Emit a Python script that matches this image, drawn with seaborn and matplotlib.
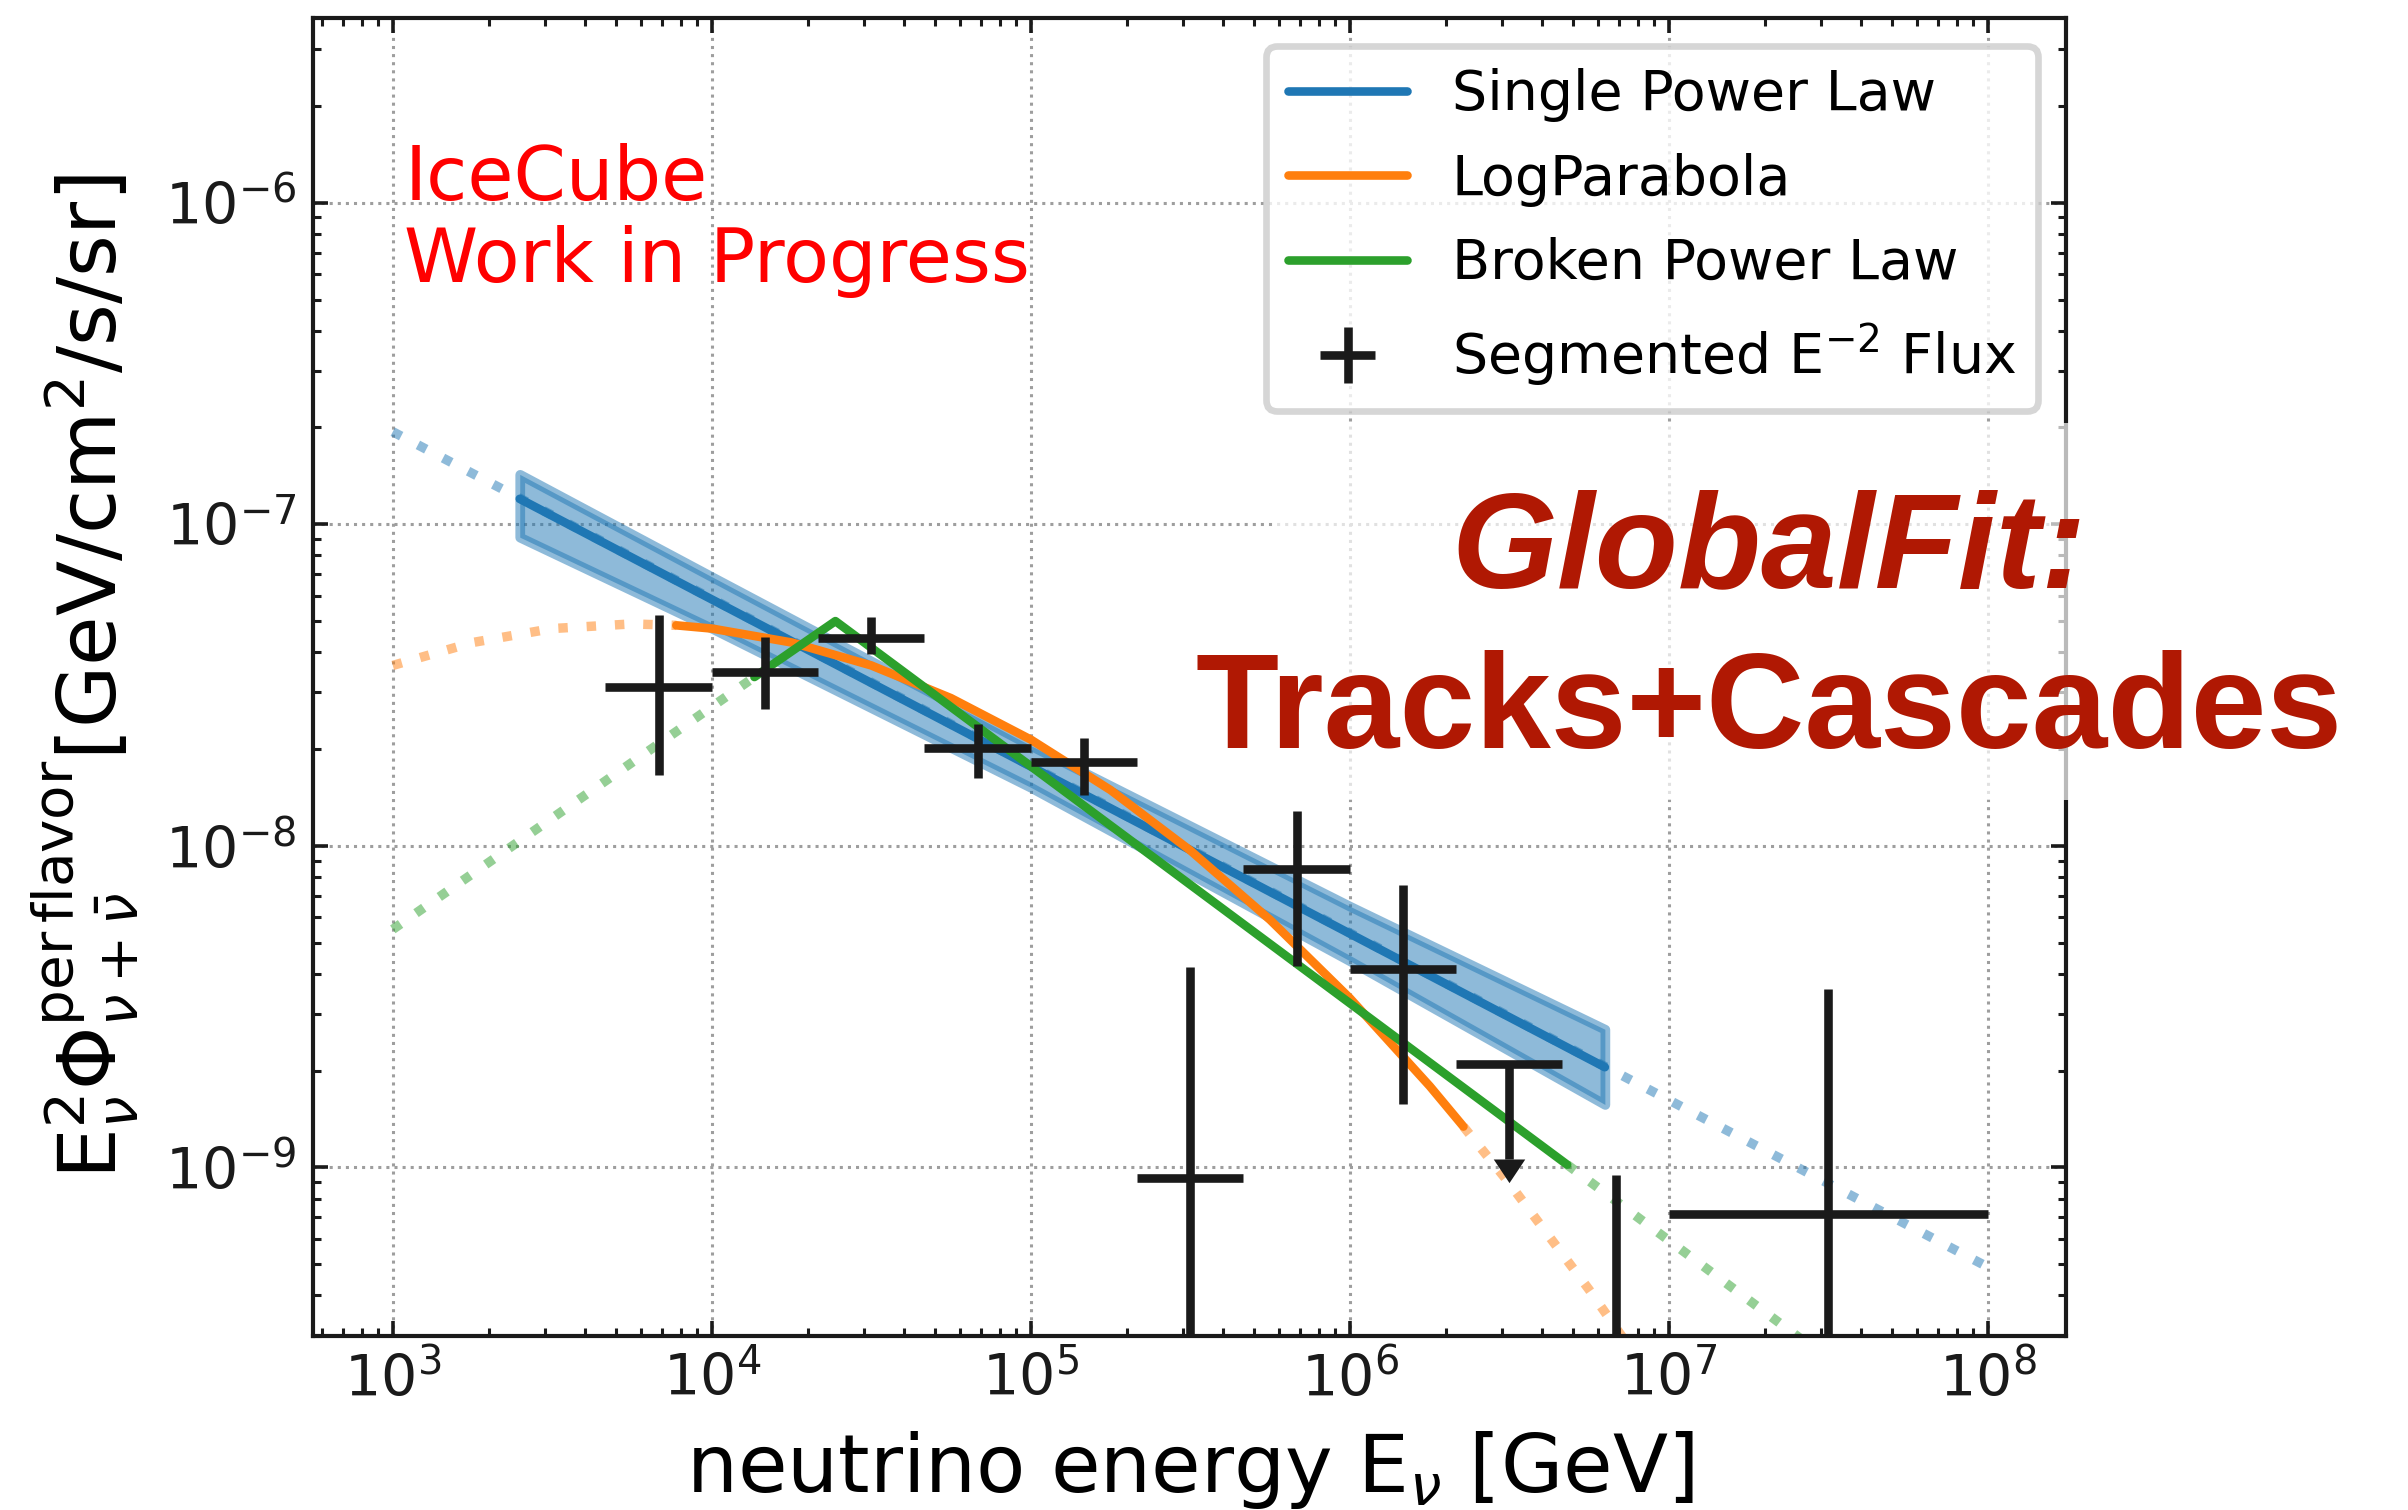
import numpy as np
import pandas as pd
import matplotlib
matplotlib.use("Agg")
import matplotlib.pyplot as plt
from matplotlib.lines import Line2D
from matplotlib.patches import Rectangle
import seaborn as sns

# ---------------- data ----------------
# Single power law: full model range (dotted) and fitted range (solid)
spl_E_full = [1.0e3, 1.0e8]
spl_F_full = [1.94e-7, 4.9e-10]
spl_E = [2.5e3, 6.3e6]
spl_F = [1.20e-7, 2.05e-9]

# 1-sigma band of the single power law
band_E = [2.5e3, 1.0e4, 1.0e5, 1.0e6, 6.3e6]
band_hi = [1.43e-7, 6.87e-8, 2.05e-8, 6.49e-9, 2.69e-9]
band_lo = [9.12e-8, 4.75e-8, 1.52e-8, 4.39e-9, 1.57e-9]

# Log-parabola
lp_E = [1.0e3, 1.78e3, 3.16e3, 5.62e3, 7.74e3, 1.0e4, 1.78e4, 3.16e4, 5.62e4,
        1.0e5, 1.78e5, 3.16e5, 5.62e5, 1.0e6, 1.78e6, 2.27e6, 3.16e6, 5.62e6, 7.94e6]
lp_F = [3.64e-8, 4.29e-8, 4.74e-8, 4.90e-8, 4.85e-8, 4.74e-8, 4.29e-8, 3.64e-8, 2.88e-8,
        2.14e-8, 1.49e-8, 9.68e-9, 5.89e-9, 3.36e-9, 1.79e-9, 1.34e-9, 8.93e-10, 4.17e-10, 2.56e-10]
lp_solid_range = (7.74e3, 2.27e6)

# Broken power law
bpl_E = [1.0e3, 1.36e4, 2.44e4, 4.8e6, 1.0e8]
bpl_F = [5.5e-9, 3.35e-8, 5.0e-8, 1.02e-9, 1.08e-10]
bpl_solid_range = (1.36e4, 4.8e6)

# Segmented E^-2 flux (bin edges, central value, error bounds)
seg_E = [6.81e3, 1.47e4, 3.16e4, 6.81e4, 1.47e5, 3.16e5, 6.81e5, 1.47e6, 6.81e6, 3.16e7]
seg_Elo = [4.64e3, 1.0e4, 2.15e4, 4.64e4, 1.0e5, 2.15e5, 4.64e5, 1.0e6, 4.64e6, 1.0e7]
seg_Ehi = [1.0e4, 2.15e4, 4.64e4, 1.0e5, 2.15e5, 4.64e5, 1.0e6, 2.15e6, 1.0e7, 1.0e8]
seg_F = [3.12e-8, 3.47e-8, 4.43e-8, 2.02e-8, 1.82e-8, 9.3e-10, 8.5e-9, 4.13e-9, 1.0e-10, 7.18e-10]
seg_Fup = [5.21e-8, 4.47e-8, 5.15e-8, 2.40e-8, 2.16e-8, 4.2e-9, 1.28e-8, 7.55e-9, 9.5e-10, 3.6e-9]
seg_Flow = [1.66e-8, 2.67e-8, 3.94e-8, 1.63e-8, 1.44e-8, 1.0e-11, 4.22e-9, 1.58e-9, 1.0e-11, 1.0e-11]

# Upper limit bin
ul_E = [3.16e6]
ul_Elo = [2.15e6]
ul_Ehi = [4.64e6]
ul_F = [2.10e-9]
ul_end = [1.06e-9]

C_SPL, C_LP, C_BPL = "#1f77b4", "#ff7f0e", "#2ca02c"

# ---------------- style ----------------
sns.set_theme(style="ticks")
plt.rcParams["font.family"] = ["DejaVu Sans"]
plt.rcParams["mathtext.fontset"] = "dejavusans"
for key in ["text.color", "axes.labelcolor", "xtick.color", "ytick.color",
            "axes.edgecolor"]:
    plt.rcParams[key] = "black"

fig, ax = plt.subplots(figsize=(12.04, 7.55), dpi=200)
fig.subplots_adjust(left=0.130, right=0.858, top=0.988, bottom=0.1155)
ax.set_xscale("log")
ax.set_yscale("log")

DOT = (0, (1, 2))
LW = 3.1
DLW = 3.4
ELW = 3.1


def seg(E, F, lo, hi, inside=True):
    E = np.asarray(E)
    F = np.asarray(F)
    m = (E >= lo) & (E <= hi)
    if inside:
        return E[m], F[m]
    return (E[E <= lo], F[E <= lo]), (E[E >= hi], F[E >= hi])


# single power law
sns.lineplot(x=spl_E_full, y=spl_F_full, ax=ax, color=C_SPL, linewidth=DLW, alpha=0.5,
             linestyle=DOT, estimator=None, sort=False, zorder=2)
ax.fill_between(band_E, band_lo, band_hi, color=C_SPL, alpha=0.5, linewidth=3.5, zorder=2.2)
sns.lineplot(x=spl_E, y=spl_F, ax=ax, color=C_SPL, linewidth=LW, estimator=None,
             sort=False, zorder=3)

# log-parabola
(lE, lF), (rE, rF) = seg(lp_E, lp_F, *lp_solid_range, inside=False)
for xe, yf in [(lE, lF), (rE, rF)]:
    sns.lineplot(x=xe, y=yf, ax=ax, color=C_LP, linewidth=DLW, alpha=0.5, linestyle=DOT,
                 estimator=None, sort=False, zorder=2)
sE, sF = seg(lp_E, lp_F, *lp_solid_range)
sns.lineplot(x=sE, y=sF, ax=ax, color=C_LP, linewidth=LW, estimator=None, sort=False,
             zorder=3.1)

# broken power law
(lE, lF), (rE, rF) = seg(bpl_E, bpl_F, *bpl_solid_range, inside=False)
for xe, yf in [(lE, lF), (rE, rF)]:
    sns.lineplot(x=xe, y=yf, ax=ax, color=C_BPL, linewidth=DLW, alpha=0.5, linestyle=DOT,
                 estimator=None, sort=False, zorder=2)
sE, sF = seg(bpl_E, bpl_F, *bpl_solid_range)
sns.lineplot(x=sE, y=sF, ax=ax, color=C_BPL, linewidth=LW, estimator=None, sort=False,
             zorder=3.2)

# segmented flux
sE = np.array(seg_E)
sF = np.array(seg_F)
xerr = [sE - np.array(seg_Elo), np.array(seg_Ehi) - sE]
yerr = [sF - np.array(seg_Flow), np.array(seg_Fup) - sF]
eb = ax.errorbar(sE, sF, xerr=xerr, yerr=yerr, fmt="none", ecolor="k",
                 elinewidth=ELW, capsize=0, zorder=5)

# upper limit
uE = np.array(ul_E)
uF = np.array(ul_F)
ax.errorbar(uE, uF, xerr=[uE - np.array(ul_Elo), np.array(ul_Ehi) - uE],
            yerr=[uF - np.array(ul_end), np.zeros_like(uF)], fmt="none",
            ecolor="k", elinewidth=ELW, capsize=0, zorder=5)
arrow = [(-1.0, 0.0), (1.0, 0.0), (0.0, -1.5), (-1.0, 0.0)]
ax.plot(ul_E, ul_end, linestyle="none", marker=arrow, markersize=17,
        color="k", markeredgewidth=0, zorder=5)

# ---------------- axes ----------------
ax.set_xlim(10 ** 2.75, 10 ** 8.245)
ax.set_ylim(3.0e-10, 3.75e-6)
ax.grid(True, which="major", linestyle=":", color="0.62", lw=1.1, zorder=0)
ax.tick_params(which="both", direction="in", top=True, right=True, colors="k")
ax.tick_params(which="major", length=5.5, width=1.3, labelsize=20.5, pad=6)
ax.tick_params(which="minor", length=3.0, width=1.1)
for s in ax.spines.values():
    s.set_linewidth(1.5)
    s.set_color("k")

ax.set_xlabel(r"neutrino energy E$_\nu$ [GeV]", fontsize=29)
ax.set_ylabel(r"$\mathrm{E}^2_\nu\Phi^{\mathrm{per\,flavor}}_{\nu+\bar{\nu}}$[GeV/cm$^2$/s/sr]",
              fontsize=29)
ax.xaxis.set_label_coords(0.5, -0.071)
ax.yaxis.set_label_coords(-0.098, 0.5)

ax.text(0.052, 0.905, "IceCube\nWork in Progress", transform=ax.transAxes,
        color="red", fontsize=27, va="top", ha="left", linespacing=1.15, zorder=6)

# legend
handles = [Line2D([], [], color=C_SPL, lw=LW),
           Line2D([], [], color=C_LP, lw=LW),
           Line2D([], [], color=C_BPL, lw=LW),
           eb]
labels = ["Single Power Law", "LogParabola", "Broken Power Law",
          r"Segmented E$^{-2}$ Flux"]
leg = ax.legend(handles, labels, loc="upper right", fontsize=20, handlelength=2.15,
                labelspacing=0.55, fancybox=True, framealpha=0.8, edgecolor="0.8")
leg.get_frame().set_linewidth(2.4)
leg.set_zorder(7)

# headline
fig.patches.append(Rectangle((0.53, 0.47), 0.45, 0.25, transform=fig.transFigure,
                             facecolor="white", alpha=0.7, edgecolor="none", zorder=1))
head_kw = dict(color="#B01803", fontsize=49, fontweight="bold", ha="center",
               va="baseline", family=["Liberation Sans", "DejaVu Sans"], zorder=8)
fig.text(0.7346, 0.611, "GlobalFit:", fontstyle="italic", **head_kw)
fig.text(0.7346, 0.5046, "Tracks+Cascades", **head_kw)

fig.savefig("out.png", dpi=200)
